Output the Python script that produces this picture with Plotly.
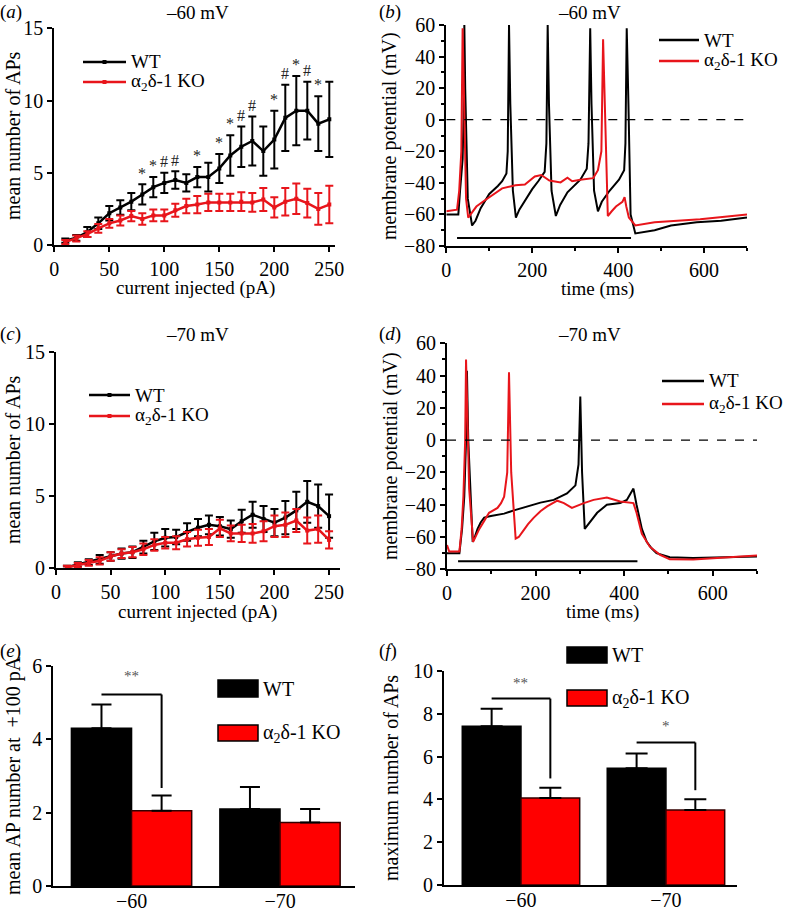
import plotly.graph_objects as go

W, H = 788, 914
FONT = "Liberation Serif"
RED_LINE = "#e8151b"
RED_BAR = "#ff0000"
KO_NAME = "α<sub>2</sub>δ-1 KO"

# ---- panels a / c : APs vs injected current ----
current_pA = [10, 20, 30, 40, 50, 60, 70, 80, 90, 100, 110, 120, 130,
              140, 150, 160, 170, 180, 190, 200, 210, 220, 230, 240, 250]

wt_60_mean = [0.3, 0.5, 0.9, 1.5, 2.2, 2.6, 3.0, 3.5, 4.0, 4.3, 4.5, 4.3, 4.7,
              4.7, 5.3, 6.2, 6.8, 7.2, 6.5, 7.3, 8.8, 9.3, 9.3, 8.4, 8.7]
wt_60_sem = [0.15, 0.2, 0.35, 0.4, 0.5, 0.5, 0.6, 0.7, 0.7, 0.7, 0.6, 0.6, 0.7,
             1.0, 1.0, 1.4, 1.4, 1.7, 1.7, 2.0, 2.3, 2.4, 2.0, 1.9, 2.6]
ko_60_mean = [0.2, 0.45, 0.75, 1.15, 1.5, 1.7, 2.0, 1.8, 2.05, 2.05, 2.4, 2.7, 2.8,
              2.95, 2.95, 2.95, 3.0, 2.95, 3.15, 2.6, 3.0, 3.2, 2.9, 2.5, 2.8]
ko_60_sem = [0.15, 0.2, 0.2, 0.3, 0.3, 0.35, 0.35, 0.4, 0.4, 0.4, 0.45, 0.5, 0.6,
             0.6, 0.6, 0.6, 0.65, 0.65, 0.8, 0.7, 0.95, 1.05, 1.0, 1.1, 1.3]

sig_current = [80, 90, 100, 110, 130, 150, 160, 170, 180, 200, 210, 220, 230, 240]
sig_marks = ["*", "*", "#", "#", "*", "*", "*", "#", "#", "*", "#", "*", "#", "*"]

wt_70_mean = [0.05, 0.25, 0.4, 0.6, 0.8, 1.0, 1.1, 1.45, 1.85, 2.1, 2.15, 2.5, 2.8,
              3.0, 2.9, 2.7, 3.25, 3.7, 3.4, 3.15, 3.5, 4.0, 4.6, 4.3, 3.6]
wt_70_sem = [0.1, 0.15, 0.2, 0.3, 0.3, 0.35, 0.4, 0.45, 0.6, 0.6, 0.5, 0.6, 0.6,
             0.65, 0.65, 0.6, 0.8, 0.9, 0.9, 0.95, 1.15, 1.3, 1.45, 1.5, 1.5]
ko_70_mean = [0.05, 0.2, 0.35, 0.5, 0.8, 1.0, 1.1, 1.3, 1.6, 1.75, 1.75, 2.0, 2.1,
              2.15, 2.75, 2.4, 2.4, 2.4, 2.55, 2.9, 3.0, 3.3, 2.6, 2.7, 1.95]
ko_70_sem = [0.1, 0.15, 0.2, 0.25, 0.3, 0.3, 0.35, 0.4, 0.4, 0.4, 0.45, 0.5, 0.55,
             0.55, 0.6, 0.55, 0.6, 0.65, 0.7, 0.75, 0.85, 0.8, 0.9, 0.95, 0.6]

# ---- panels b / d : example voltage traces (key points) ----
b_wt_t = [0, 28, 32, 38, 40, 42, 44, 50, 60, 68, 80, 100, 120, 130, 140, 143, 146, 149,
          155, 162, 170, 183, 200, 214, 229, 233, 236, 239, 245, 255, 265, 282, 298, 312, 327,
          331, 335, 338, 344, 353, 362, 380, 402, 414, 417, 420, 424, 429, 440, 465, 485,
          523, 583, 640, 700]
b_wt_v = [-60, -60, -45, -25, 0, 60, 20, -50, -67, -64, -56, -47, -42, -39, -34, -20, 60, 10,
          -45, -62, -57, -51, -44, -39, -33, -15, 60, 10, -45, -61, -54, -46, -42, -38, -31,
          -15, 58, 10, -45, -58, -52, -45, -38, -32, -15, 58, 10, -60, -72, -71, -70,
          -67, -65, -64, -62]
b_ko_t = [0, 25, 30, 35, 38, 41, 46, 51, 60, 70, 85, 100, 115, 130, 161, 183, 206, 221, 240,
          266, 282, 293, 312, 342, 353, 361, 365, 371, 376, 385, 395, 410, 415, 419, 425,
          440, 485, 538, 591, 700]
b_ko_v = [-58, -57, -45, -20, 58, 10, -50, -62, -59, -55, -52, -49, -46, -43.5, -41.5, -41,
          -36, -35, -38.5, -39.7, -36.7, -39, -38, -37, -32, -20, 51, -20, -61, -58, -55, -52,
          -49, -55, -62, -67, -65, -64, -63, -60]

d_wt_t = [0, 28, 34, 39, 43, 45, 48, 52, 58, 64, 69, 76, 84, 99, 129, 151, 181, 211, 241,
          271, 290, 297, 301, 305, 311, 317, 324, 339, 361, 391, 406, 421, 428, 440, 451, 462,
          473, 503, 556, 631, 700]
d_wt_v = [-70, -70, -55, -35, 0, 43, 0, -30, -63, -59, -55, -51, -48, -47, -45.5, -43.5,
          -41, -38.7, -37, -33, -28, -15, 27, -20, -55, -53, -50, -45, -40, -39, -37, -30,
          -40, -55, -63, -67, -70, -72.5, -73, -72.5, -72]
d_ko_t = [0, 5, 28, 33, 37, 41, 43, 47, 50, 59, 66, 73, 84, 95, 114, 122, 129, 136, 140,
          145, 155, 162, 170, 183, 196, 211, 226, 249, 264, 282, 309, 331, 361, 391, 421,
          428, 440, 458, 481, 503, 556, 616, 700]
d_ko_v = [-65, -69, -69, -55, -35, 0, 50, 0, -30, -63, -59, -55, -50, -45, -42, -39, -35,
          -20, 42, -20, -61, -60, -57, -52, -48, -44, -41, -37.5, -39, -42, -39, -37, -35.5,
          -38, -39, -45, -58, -66, -71, -73.8, -74, -73, -71.5]

stim_on_ms, stim_off_ms, stim_bar_mV = 25, 430, -75

# ---- panels e / f : bar summaries ----
hold_labels = ["−60", "−70"]
e_wt, e_wt_err = [4.3, 2.1], [0.65, 0.6]
e_ko, e_ko_err = [2.05, 1.73], [0.42, 0.37]
f_wt, f_wt_err = [7.42, 5.46], [0.82, 0.68]
f_ko, f_ko_err = [4.06, 3.51], [0.48, 0.5]

e_br_group, e_br_top, e_br_bottom, e_br_text, e_br_text_y = [0], [5.22], [2.67], ["**"], [5.45]
f_br_group, f_br_top, f_br_bottom = [0, 1], [8.71, 6.66], [4.98, 4.43]
f_br_text, f_br_text_y = ["**", "*"], [8.95, 6.95]


def px(x):
    return x / W


def py(y):
    return 1 - y / H


fig = go.Figure()


def curve_panel(ax, wt_m, wt_e, ko_m, ko_e):
    for m, e, c in [(wt_m, wt_e, "black"), (ko_m, ko_e, RED_LINE)]:
        fig.add_trace(go.Scatter(
            x=current_pA, y=m, mode="lines+markers",
            line=dict(color=c, width=2.5),
            marker=dict(symbol="square", size=4, color=c),
            error_y=dict(type="data", array=e, color=c, thickness=2, width=4),
            xaxis="x" + ax, yaxis="y" + ax, showlegend=False))


curve_panel("", wt_60_mean, wt_60_sem, ko_60_mean, ko_60_sem)
curve_panel("3", wt_70_mean, wt_70_sem, ko_70_mean, ko_70_sem)

for ax, tw, vw, tk, vk in [("2", b_wt_t, b_wt_v, b_ko_t, b_ko_v),
                           ("4", d_wt_t, d_wt_v, d_ko_t, d_ko_v)]:
    fig.add_trace(go.Scatter(x=tw, y=vw, mode="lines", line=dict(color="black", width=2),
                             xaxis="x" + ax, yaxis="y" + ax, showlegend=False))
    fig.add_trace(go.Scatter(x=tk, y=vk, mode="lines", line=dict(color=RED_LINE, width=2),
                             xaxis="x" + ax, yaxis="y" + ax, showlegend=False))
    fig.add_shape(type="line", xref="x" + ax, yref="y" + ax, x0=0, x1=700, y0=0, y1=0,
                  line=dict(color="black", width=1.2, dash="dash"))
    fig.add_shape(type="line", xref="x" + ax, yref="y" + ax, x0=stim_on_ms, x1=stim_off_ms,
                  y0=stim_bar_mV, y1=stim_bar_mV, line=dict(color="black", width=2))

for ax, wt, wte, ko, koe, cap in [("5", e_wt, e_wt_err, e_ko, e_ko_err, 10),
                                  ("6", f_wt, f_wt_err, f_ko, f_ko_err, 11)]:
    fig.add_trace(go.Bar(x=hold_labels, y=wt, marker=dict(color="black", line=dict(color="black", width=1.5)),
                         error_y=dict(type="data", array=wte, arrayminus=[0, 0], symmetric=False,
                                      color="black", thickness=2, width=cap),
                         xaxis="x" + ax, yaxis="y" + ax, showlegend=False))
    fig.add_trace(go.Bar(x=hold_labels, y=ko, marker=dict(color=RED_BAR, line=dict(color="#300", width=1.5)),
                         error_y=dict(type="data", array=koe, arrayminus=[0, 0], symmetric=False,
                                      color="black", thickness=2, width=cap),
                         xaxis="x" + ax, yaxis="y" + ax, showlegend=False))

annotations = []

# significance marks in (a)
for c, s in zip(sig_current, sig_marks):
    i = current_pA.index(c)
    annotations.append(dict(x=c, y=wt_60_mean[i] + wt_60_sem[i] + 0.05, xref="x", yref="y",
                            text=s, showarrow=False, yanchor="bottom",
                            font=dict(size=16, color="#222222", family=FONT)))

# brackets in (e) and (f)
BARGAP = 0.19
off = (1 - BARGAP) / 4
for ax, groups, tops, bots, texts, ty in [("5", e_br_group, e_br_top, e_br_bottom, e_br_text, e_br_text_y),
                                          ("6", f_br_group, f_br_top, f_br_bottom, f_br_text, f_br_text_y)]:
    for g, t, b, s, y in zip(groups, tops, bots, texts, ty):
        fig.add_shape(type="line", xref="x" + ax, yref="y" + ax, x0=g - off, x1=g + off, y0=t, y1=t,
                      line=dict(color="black", width=2))
        fig.add_shape(type="line", xref="x" + ax, yref="y" + ax, x0=g + off, x1=g + off, y0=t, y1=b,
                      line=dict(color="black", width=2))
        annotations.append(dict(x=g, y=y, xref="x" + ax, yref="y" + ax, text=s, showarrow=False,
                                yanchor="bottom", font=dict(size=15, color="#555555", family=FONT)))


def text(x, y, s, size=19, xanchor="center", angle=0):
    annotations.append(dict(x=px(x), y=py(y), xref="paper", yref="paper", text=s, showarrow=False,
                            xanchor=xanchor, yanchor="middle", textangle=angle,
                            font=dict(size=size, color="black", family=FONT)))


# panel letters and titles
for lx, ly, l in [(-2, 12, "a"), (377, 12, "b"), (-2, 334, "c"), (377, 334, "d"), (-2, 651, "e"), (377, 651, "f")]:
    text(lx, ly, "(<i>%s</i>)" % l, xanchor="left")
text(197, 12, "–60 mV")
text(589, 12, "–60 mV")
text(197, 334, "–70 mV")
text(589, 334, "–70 mV")

# axis titles
text(195, 288, "current injected (pA)")
text(197, 612, "current injected (pA)")
text(597, 289, "time (ms)")
text(602, 612, "time (ms)")
text(13, 136, "mean number of APs", size=20, angle=-90)
text(13, 460, "mean number of APs", size=20, angle=-90)
text(390, 136, "membrane potential (mV)", size=20, angle=-90)
text(390, 456, "membrane potential (mV)", size=20, angle=-90)
text(13, 776, "mean AP number at  +100 pA", size=20, angle=-90)
text(391, 778, "maximum number of APs", size=20, angle=-90)

# line legends (a-d)
for x0, x1, y_wt, y_ko, mark in [(83, 126, 62, 82, True), (659, 699, 40, 61, False),
                                 (89, 130, 395, 416, True), (662, 704, 381, 404, False)]:
    for yy, c, s in [(y_wt, "black", "WT"), (y_ko, RED_LINE, KO_NAME)]:
        fig.add_shape(type="line", xref="paper", yref="paper", x0=px(x0), x1=px(x1),
                      y0=py(yy), y1=py(yy), line=dict(color=c, width=2.5))
        if mark:
            xm = (x0 + x1) / 2
            fig.add_shape(type="rect", xref="paper", yref="paper", x0=px(xm - 2), x1=px(xm + 2),
                          y0=py(yy - 2), y1=py(yy + 2), line=dict(width=0), fillcolor=c)
        text(x1 + 3, yy, s, size=19, xanchor="left")

# box legends (e, f)
for x0, x1, (wy0, wy1), (ky0, ky1) in [(218, 258, (680, 697), (725, 741)),
                                       (567, 607, (647, 663), (690, 706))]:
    for (y0, y1), c, s in [((wy0, wy1), "black", "WT"), ((ky0, ky1), RED_BAR, KO_NAME)]:
        fig.add_shape(type="rect", xref="paper", yref="paper", x0=px(x0), x1=px(x1),
                      y0=py(y1), y1=py(y0), fillcolor=c, line=dict(color="black", width=1.5))
        text(x1 + 3, (y0 + y1) / 2, s, size=20, xanchor="left")

axis_common = dict(showgrid=False, zeroline=False, showline=True, linecolor="black", linewidth=2,
                   ticks="outside", ticklen=5, tickwidth=2, tickcolor="black", automargin=False,
                   tickfont=dict(size=20, color="black", family=FONT))
bar_xaxis = {**axis_common, "ticks": "", "ticklen": 0, "ticklabelstandoff": -4}

minor_y = dict(ticks="outside", ticklen=3, tickwidth=1.5, tickcolor="black", dtick=10)
minor_x = dict(ticks="outside", ticklen=3, tickwidth=1.5, tickcolor="black", dtick=100)

fig.update_layout(
    width=W, height=H, margin=dict(l=0, r=0, t=0, b=0, autoexpand=False),
    paper_bgcolor="white", plot_bgcolor="white",
    barmode="group", bargap=BARGAP, bargroupgap=0,
    font=dict(family=FONT, color="black"),
    xaxis=dict(domain=[px(54.3), px(334.8)], range=[0, 255], dtick=50, anchor="y", **axis_common),
    yaxis=dict(domain=[py(245), py(28.3)], range=[0, 15], dtick=5, anchor="x", **axis_common),
    xaxis2=dict(domain=[px(446.3), px(747)], range=[0, 700], dtick=200, anchor="y2",
                minor=minor_x, **axis_common),
    yaxis2=dict(domain=[py(246), py(25)], range=[-80, 60], dtick=20, anchor="x2",
                minor=minor_y, **axis_common),
    xaxis3=dict(domain=[px(56), px(340)], range=[0, 260], dtick=50, anchor="y3", **axis_common),
    yaxis3=dict(domain=[py(568), py(352)], range=[0, 15], dtick=5, anchor="x3", **axis_common),
    xaxis4=dict(domain=[px(447), px(757)], range=[0, 700], dtick=200, anchor="y4",
                minor=minor_x, **axis_common),
    yaxis4=dict(domain=[py(569.3), py(343.3)], range=[-80, 60], dtick=20, anchor="x4",
                minor=minor_y, **axis_common),
    xaxis5=dict(domain=[px(53.3), px(355)], range=[-0.527, 1.505], type="category", anchor="y5",
                **bar_xaxis),
    yaxis5=dict(domain=[py(886), py(666)], range=[0, 6], dtick=2, anchor="x5", **axis_common),
    xaxis6=dict(domain=[px(444), px(737)], range=[-0.531, 1.49], type="category", anchor="y6",
                **bar_xaxis),
    yaxis6=dict(domain=[py(885), py(671)], range=[0, 10], dtick=2, anchor="x6", **axis_common),
    annotations=annotations,
)

# the page's default body margin would push the fixed-size figure off the window
fig.write_html("out.html", config={"displayModeBar": False},
               post_script="document.body.style.margin='0';document.body.style.overflow='hidden';")
